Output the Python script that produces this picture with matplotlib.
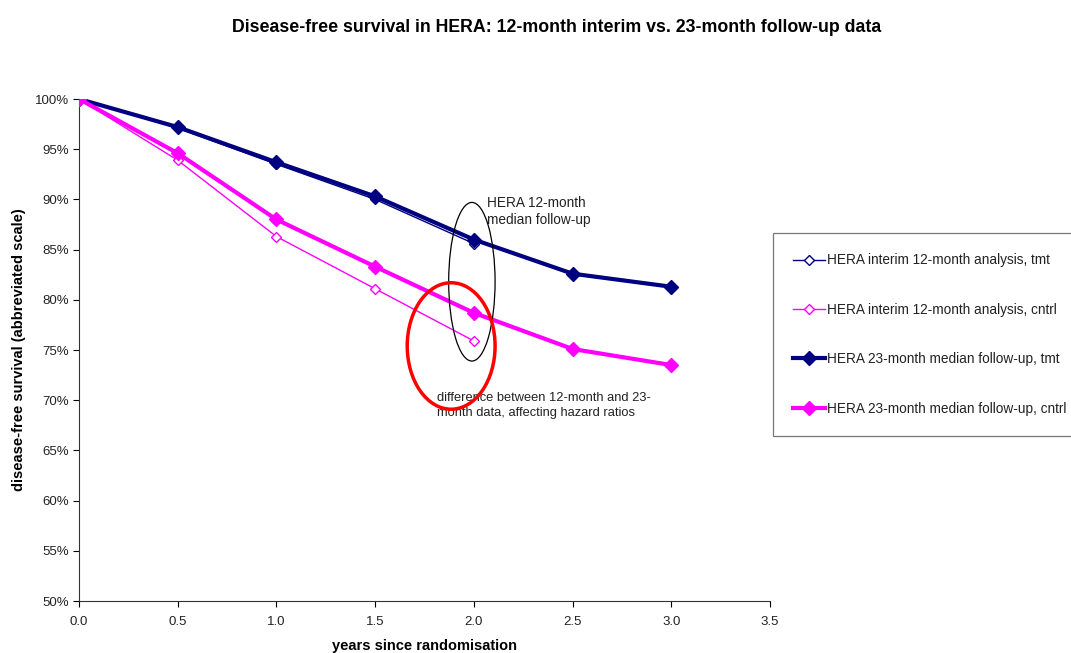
import matplotlib
matplotlib.use("Agg")
import matplotlib.pyplot as plt
from matplotlib.patches import Ellipse
from matplotlib.ticker import FuncFormatter, MultipleLocator

plt.rcParams['font.family'] = ['Liberation Sans', 'DejaVu Sans']

years_full = [0.0, 0.5, 1.0, 1.5, 2.0, 2.5, 3.0]
years_interim = [0.0, 0.5, 1.0, 1.5, 2.0]
interim_tmt = [100.0, 97.1, 93.5, 90.0, 85.6]
interim_cntrl = [100.0, 93.9, 86.3, 81.1, 75.9]
full_tmt = [100.0, 97.2, 93.7, 90.3, 86.0, 82.6, 81.3]
full_cntrl = [100.0, 94.6, 88.0, 83.3, 78.7, 75.1, 73.5]

labels = ["HERA interim 12-month analysis, tmt",
          "HERA interim 12-month analysis, cntrl",
          "HERA 23-month median follow-up, tmt",
          "HERA 23-month median follow-up, cntrl"]

navy = '#000080'
magenta = '#FF00FF'

fig = plt.figure(figsize=(10.71, 6.53), dpi=100)
ax = fig.add_axes([79/1071, 1 - 601/653, (770-79)/1071, (601-99)/653])

ax.plot(years_interim, interim_tmt, color=navy, lw=1.0, marker='D', ms=5,
        mfc='white', mec=navy, mew=1.0, label=labels[0], zorder=3)
ax.plot(years_interim, interim_cntrl, color=magenta, lw=1.0, marker='D', ms=5,
        mfc='white', mec=magenta, mew=1.0, label=labels[1], zorder=3)
ax.plot(years_full, full_tmt, color=navy, lw=3.0, marker='D', ms=7,
        mfc=navy, mec=navy, label=labels[2], zorder=4)
ax.plot(years_full, full_cntrl, color=magenta, lw=3.0, marker='D', ms=7,
        mfc=magenta, mec=magenta, label=labels[3], zorder=4)

ax.set_xlim(0, 3.5)
ax.set_ylim(50, 100)
ax.xaxis.set_major_locator(MultipleLocator(0.5))
ax.yaxis.set_major_locator(MultipleLocator(5))
ax.xaxis.set_major_formatter(FuncFormatter(lambda v, p: f"{v:.1f}"))
ax.yaxis.set_major_formatter(FuncFormatter(lambda v, p: f"{v:.0f}%"))
ax.tick_params(axis='both', labelsize=9.5, direction='out', length=4, width=0.8,
               labelcolor='#222222')
ax.tick_params(axis='x', pad=7)
for s in ['top', 'right']:
    ax.spines[s].set_visible(False)
for s in ['left', 'bottom']:
    ax.spines[s].set_color('#333333')

ax.set_xlabel("years since randomisation", fontsize=10.5, fontweight='bold', labelpad=7.5)
ax.set_ylabel("disease-free survival (abbreviated scale)", fontsize=10.5, fontweight='bold', labelpad=6)

fig.text(557/1071, 1 - 27/653, "Disease-free survival in HERA: 12-month interim vs. 23-month follow-up data",
         ha='center', va='center', fontsize=12.8, fontweight='bold')

# annotations
ax.add_patch(Ellipse((1.99, 81.8), 0.235, 15.8, fill=False, ec='black', lw=0.9, zorder=5, clip_on=False))
ax.add_patch(Ellipse((1.885, 75.4), 0.445, 12.6, fill=False, ec='#FF0000', lw=2.5, zorder=5, clip_on=False))
ax.text(2.065, 88.8, "HERA 12-month\nmedian follow-up", fontsize=9.8, ha='left', va='center',
        linespacing=1.3, color='#222222')
ax.text(1.814, 69.5, "difference between 12-month and 23-\nmonth data, affecting hazard ratios",
        fontsize=9.3, ha='left', va='center', linespacing=1.35, color='#222222')

leg = ax.legend(loc='upper left', bbox_to_anchor=((773-79)/(770-79), (601-233)/(601-99)),
                frameon=True, fancybox=False, edgecolor='#555555', fontsize=9.8,
                labelspacing=2.6, handlelength=2.3, handletextpad=0.15, borderpad=1.5,
                borderaxespad=0)
leg.get_frame().set_linewidth(0.9)
for t in leg.get_texts():
    t.set_color('#222222')

fig.savefig("out.png", dpi=100)
